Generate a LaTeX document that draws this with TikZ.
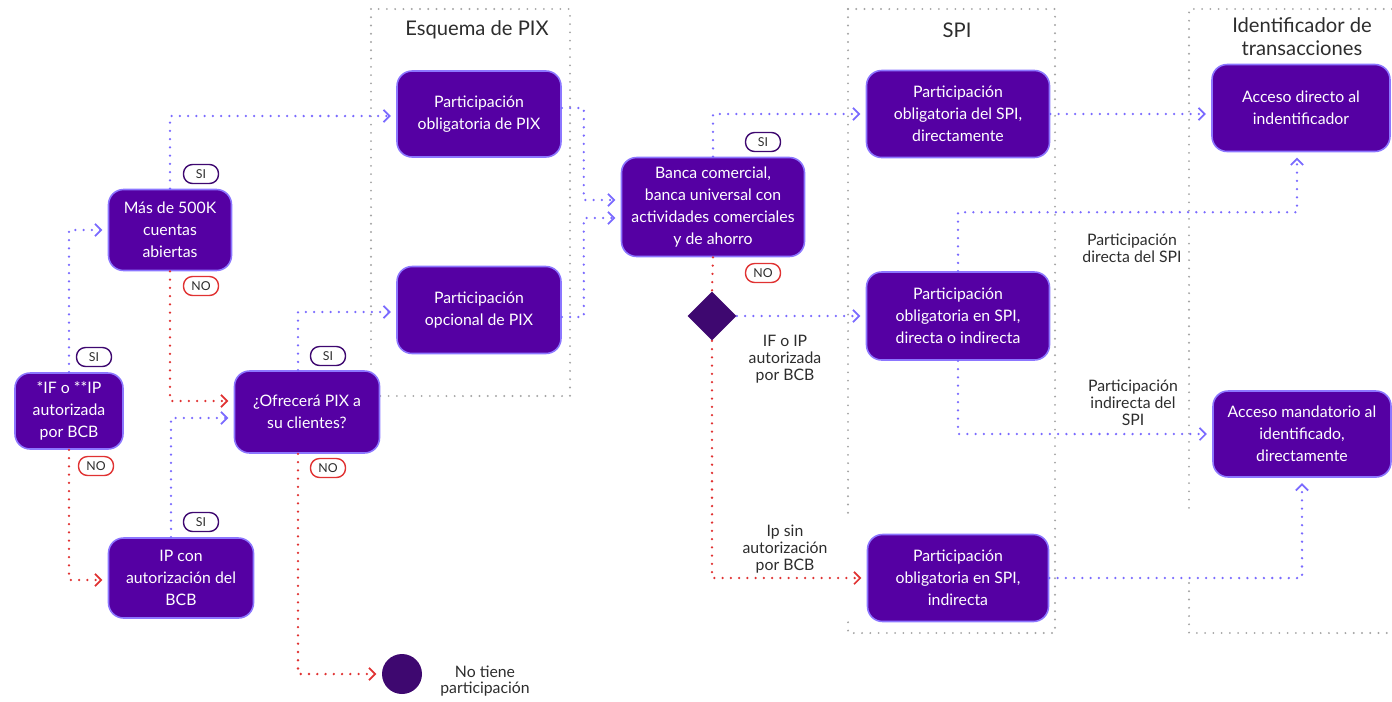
\documentclass[tikz,border=0pt]{standalone}
\usepackage{fontspec}
\setmainfont{Lato}
\usetikzlibrary{arrows.meta,shapes.geometric,calc,positioning}
\definecolor{boxfill}{RGB}{85,0,163}
\definecolor{boxline}{RGB}{140,118,255}
\definecolor{flowblue}{RGB}{122,106,255}
\definecolor{flowred}{RGB}{224,50,50}
\definecolor{framegray}{RGB}{165,165,165}
\definecolor{darkmark}{RGB}{62,8,112}
\definecolor{labeltext}{RGB}{45,45,45}
\tikzset{
  proc/.style={rectangle, rounded corners=0.3cm, fill=boxfill, draw=boxline,
    line width=0.9pt, text=white, align=center, inner sep=2pt,
    font=\fontsize{9}{12.5}\selectfont},
  yespill/.style={rectangle, rounded corners=0.18cm, draw=darkmark, fill=white,
    line width=0.8pt, minimum width=0.7cm, minimum height=0.38cm, inner sep=0pt,
    text=labeltext, font=\fontsize{7}{7}\selectfont},
  nopill/.style={yespill, draw=flowred},
  siline/.style={flowblue, line width=1.45pt, dash pattern=on 0pt off 4.7pt, line cap=round},
  noline/.style={siline, flowred},
  siflow/.style={siline, -{Straight Barb[length=3.5pt,width=7pt,line width=1pt]}, shorten >=3pt},
  noflow/.style={noline, -{Straight Barb[length=3.5pt,width=7pt,line width=1pt]}, shorten >=3pt},
  frame/.style={framegray, line width=1.2pt, dash pattern=on 0pt off 4.7pt, line cap=round},
  note/.style={text=labeltext, align=center, font=\fontsize{9}{9.6}\selectfont},
  heading/.style={text=labeltext, align=center, font=\fontsize{11.5}{13}\selectfont}
}
\begin{document}
\begin{tikzpicture}[x=0.02cm, y=-0.02cm]
\useasboundingbox (0,0) rectangle (1392,701);
% containers
\draw[frame] (371,9) rectangle (570,396);
\draw[frame] (848,9) -- (1055,9) -- (1055,633) -- (848,633) -- (848,622);
\draw[frame] (848,9) -- (848,515);
\draw[frame] (1392,9) -- (1189,9) -- (1189,515);
\draw[frame] (1189,583) -- (1189,633) -- (1392,633);
\node[heading] (tpix) at (477,30) {Esquema de PIX};
\node[heading] (tspi) at (957,30) {SPI};
\node[heading] (tid) at (1302,37) {Identificador de\\transacciones};

% boxes
\node[proc, minimum width=2.16cm, minimum height=1.52cm] (ifip) at (69,411) {*IF o **IP\\autorizada\\por BCB};
\node[proc, minimum width=2.46cm, minimum height=1.62cm] (mas) at (170,230) {Más de 500K\\cuentas\\abiertas};
\node[proc, minimum width=2.9cm, minimum height=1.6cm] (ipcon) at (181,578) {IP con\\autorización del\\BCB};
\node[proc, minimum width=2.9cm, minimum height=1.64cm] (ofrece) at (307,412) {¿Ofrecerá PIX a\\su clientes?};
\node[proc, minimum width=3.28cm, minimum height=1.72cm] (pixob) at (479,114) {Participación\\obligatoria de PIX};
\node[proc, minimum width=3.28cm, minimum height=1.74cm] (pixop) at (479,310) {Participación\\opcional de PIX};
\node[proc, minimum width=3.66cm, minimum height=1.98cm] (banca) at (713,207) {Banca comercial,\\banca universal con\\actividades comerciales\\y de ahorro};
\node[diamond, fill=darkmark, minimum width=0.98cm, minimum height=0.98cm, inner sep=0pt] (decide) at (712,316) {};
\node[proc, minimum width=3.66cm, minimum height=1.74cm] (spidir) at (958,114) {Participación\\obligatoria del SPI,\\directamente};
\node[proc, minimum width=3.66cm, minimum height=1.76cm] (spimix) at (958,316) {Participación\\obligatoria en SPI,\\directa o indirecta};
\node[proc, minimum width=3.62cm, minimum height=1.74cm] (spiind) at (958,578) {Participación\\obligatoria en SPI,\\indirecta};
\node[proc, minimum width=3.56cm, minimum height=1.74cm] (idacc) at (1301,108) {Acceso directo al\\indentificador};
\node[proc, minimum width=3.56cm, minimum height=1.72cm] (idman) at (1302,434) {Acceso mandatorio al\\identificado,\\directamente};
\node[circle, fill=darkmark, minimum size=0.8cm, inner sep=0pt] (nopart) at (402,674) {};
\node[note] (nopartlbl) at (485,681) {No tiene\\participación};

% pills
\node[yespill] (si1) at (201,174) {SI};
\node[nopill] (no1) at (201,286) {NO};
\node[yespill] (si2) at (94,357) {SI};
\node[nopill] (no2) at (96,466) {NO};
\node[yespill] (si3) at (328,356) {SI};
\node[nopill] (no3) at (328,468) {NO};
\node[yespill] (si4) at (201,522) {SI};
\node[yespill] (si5) at (763,142) {SI};
\node[nopill] (no5) at (763,273) {NO};

% notes
\node[note] (ifipnote) at (785,359) {IF o IP\\autorizada\\por BCB};
\node[note] (ipsinnote) at (785,549) {Ip sin\\autorización\\por BCB};
\node[note] (dirnote) at (1132,248) {Participación\\directa del SPI};
\node[note] (indnote) at (1133,403) {Participación\\indirecta del\\SPI};

% flows
\draw[siflow] (ifip.north) |- (mas.west);
\draw[siflow] (mas.north) |- ($(pixob.west)+(0,2)$);
\draw[siflow] ($(ipcon.north)+(-10,0)$) |- ($(ofrece.west)+(0,6)$);
\draw[siflow] ($(ofrece.north)+(-9,0)$) |- ($(pixop.west)+(0,2)$);
\draw[siflow] ($(pixob.east)+(0,-6)$) -- ++(22,0) |- ($(banca.west)+(0,-7)$);
\draw[siflow] ($(pixop.east)+(0,7)$) -- ++(22,0) |- ($(banca.west)+(0,11)$);
\draw[siflow] (banca.north) |- (spidir.west);
\draw[siflow] (decide.east) -- (spimix.west);
\draw[siflow] (spidir.east) -- (spidir.east -| idacc.west);
\draw[siflow] (spimix.north) -- ++(0,-59) -| ($(idacc.south)+(-4,0)$);
\draw[siflow] (spimix.south) |- (idman.west);
\draw[siflow] (spiind.east) -| (idman.south);
\draw[noflow] (ifip.south) |- ($(ipcon.west)+(0,2)$);
\draw[noflow] (mas.south) |- ($(ofrece.west)+(0,-11)$);
\draw[noflow] ($(ofrece.south)+(-9,0)$) |- (nopart.west);
\draw[noline] (banca.south) -- (decide.north);
\draw[noflow] (decide.south) |- (spiind.west);
\end{tikzpicture}
\end{document}
